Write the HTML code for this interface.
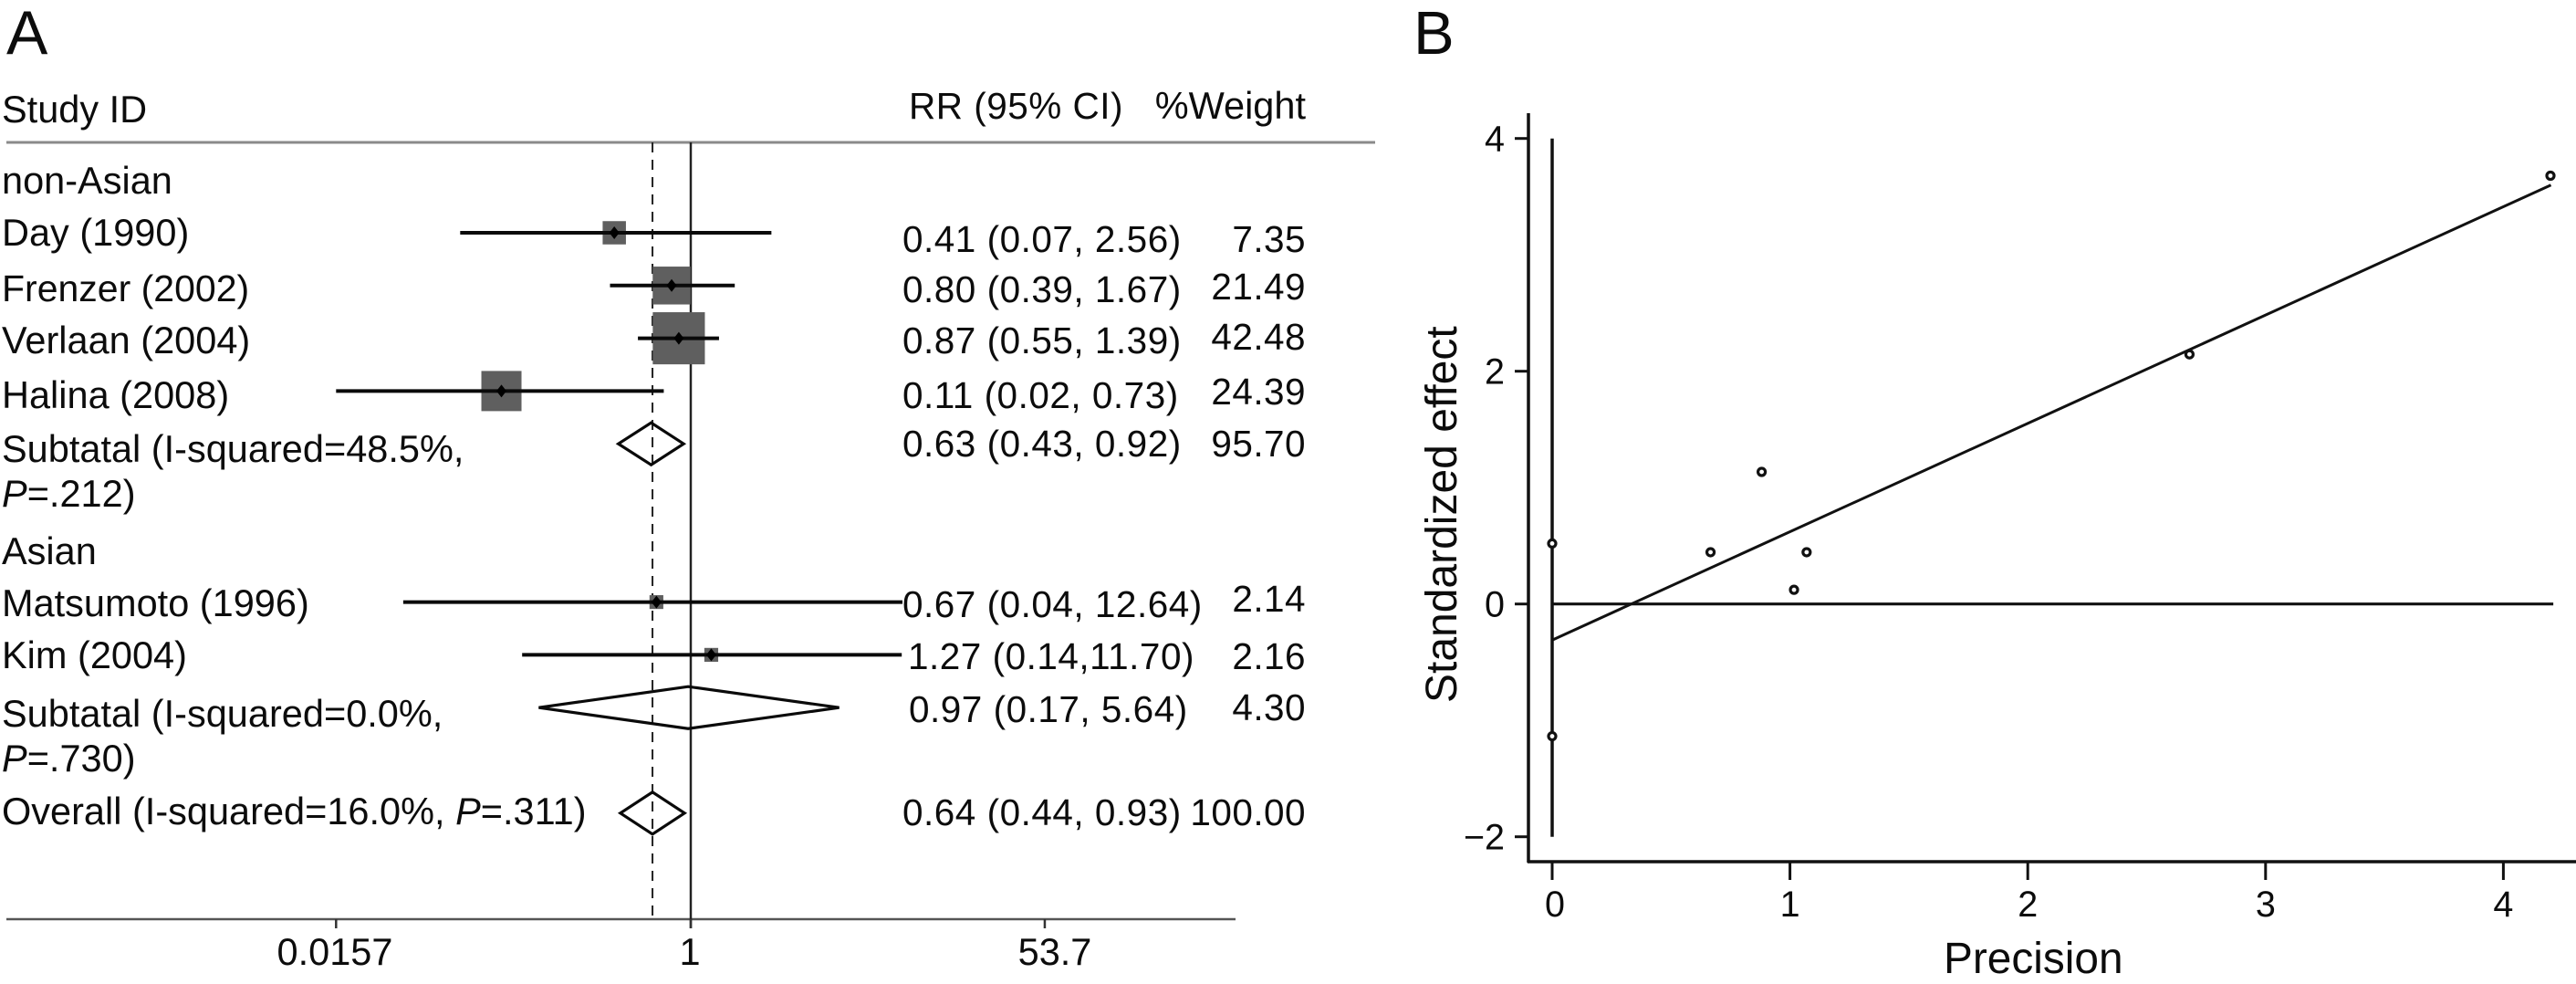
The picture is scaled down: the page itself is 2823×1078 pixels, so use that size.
<!DOCTYPE html>
<html lang="en">
<head>
<meta charset="utf-8">
<title>Forest plot and Galbraith plot</title>
<style>
html,body{margin:0;padding:0;background:#fff;width:2823px;height:1078px;overflow:hidden}
svg{display:block}
text{font-family:"Liberation Sans",Arial,sans-serif;fill:#0c0c0c;font-size:40.5px}
.lab{font-size:41.5px}
.rv{letter-spacing:.5px}
.w{text-anchor:end;letter-spacing:.45px}
.tick{font-size:39.5px}
</style>
</head>
<body>
<svg id="figure" xmlns="http://www.w3.org/2000/svg" width="2823" height="1078" viewBox="0 0 2823 1078">
  <rect width="2823" height="1078" fill="#fff"/>

  <g id="panelA">
    <text x="7" y="59" style="font-size:68px">A</text>
    <text class="lab" x="2" y="134">Study ID</text>
    <text x="996" y="130" class="rv">RR (95% CI)</text>
    <text x="1431" y="130" style="text-anchor:end;font-size:41.5px">%Weight</text>

    <text class="lab" x="2" y="212">non-Asian</text>
    <text class="lab" x="2" y="269">Day (1990)</text>
    <text class="lab" x="2" y="330" style="font-size:41px">Frenzer (2002)</text>
    <text class="lab" x="2" y="387">Verlaan (2004)</text>
    <text class="lab" x="2" y="447">Halina (2008)</text>
    <text class="lab" x="2" y="506">Subtatal (I-squared=48.5%,</text>
    <text class="lab" x="2" y="555"><tspan font-style="italic">P</tspan>=.212)</text>
    <text class="lab" x="2" y="618">Asian</text>
    <text class="lab" x="2" y="675">Matsumoto (1996)</text>
    <text class="lab" x="2" y="732">Kim (2004)</text>
    <text class="lab" x="2" y="796">Subtatal (I-squared=0.0%,</text>
    <text class="lab" x="2" y="845"><tspan font-style="italic">P</tspan>=.730)</text>
    <text class="lab" x="2" y="903">Overall (I-squared=16.0%, <tspan font-style="italic">P</tspan>=.311)</text>

    <text class="rv" x="989" y="276">0.41 (0.07, 2.56)</text>
    <text class="rv" x="989" y="331">0.80 (0.39, 1.67)</text>
    <text class="rv" x="989" y="387">0.87 (0.55, 1.39)</text>
    <text class="rv" x="989" y="447">0.11 (0.02, 0.73)</text>
    <text class="rv" x="989" y="500">0.63 (0.43, 0.92)</text>
    <text class="rv" x="989" y="676">0.67 (0.04, 12.64)</text>
    <text class="rv" x="995" y="733">1.27 (0.14,11.70)</text>
    <text class="rv" x="996" y="791">0.97 (0.17, 5.64)</text>
    <text class="rv" x="989" y="904">0.64 (0.44, 0.93)</text>

    <text class="w" x="1431" y="276">7.35</text>
    <text class="w" x="1431" y="328">21.49</text>
    <text class="w" x="1431" y="383">42.48</text>
    <text class="w" x="1431" y="443">24.39</text>
    <text class="w" x="1431" y="500">95.70</text>
    <text class="w" x="1431" y="670">2.14</text>
    <text class="w" x="1431" y="733">2.16</text>
    <text class="w" x="1431" y="789">4.30</text>
    <text class="w" x="1431" y="904">100.00</text>

    <text x="367" y="1057" style="text-anchor:middle;font-size:41.5px">0.0157</text>
    <text x="756" y="1057" style="text-anchor:middle;font-size:41.5px">1</text>
    <text x="1156" y="1057" style="text-anchor:middle;font-size:41.5px">53.7</text>

    <line x1="7" y1="156" x2="1507" y2="156" stroke="#8a8a8a" stroke-width="3"/>
    <line x1="7" y1="1007" x2="1354" y2="1007" stroke="#555" stroke-width="2.5"/>
  </g>

  <g id="panelB">
    <text x="1549" y="59" style="font-size:67px">B</text>
    <text transform="translate(1596,770) rotate(-90)" style="font-size:48px">Standardized effect</text>
    <text x="2130" y="1066" style="font-size:47.8px">Precision</text>
    <line x1="1675" y1="124" x2="1675" y2="945" stroke="#111" stroke-width="3.5"/>
    <line x1="1674" y1="944" x2="2823" y2="944" stroke="#111" stroke-width="3.5"/>
  </g>
</svg>

<script>
// Forest plot data (panel A)
const studies = ['day', 'frenzer', 'verlaan', 'halina', 'matsumoto', 'kim'];
const studyRows = [0, 1, 2, 3, 7, 8];
const rr = [0.41, 0.80, 0.87, 0.11, 0.67, 1.27];
const ciLow = [0.068, 0.39, 0.54, 0.016, 0.035, 0.14];
const ciHigh = [2.56, 1.67, 1.39, 0.73, 11.8, 11.70];
const weights = [7.35, 21.49, 42.48, 24.39, 2.14, 2.16];

const pools = ['subtotal-non-asian', 'subtotal-asian', 'overall'];
const poolRows = [4, 9, 11];
const poolRR = [0.63, 0.97, 0.64];
const poolLow = [0.43, 0.17, 0.44];
const poolHigh = [0.92, 5.64, 0.93];
const forestTicks = [0.016, 1, 62];

// Galbraith plot data (panel B)
const precision = [0, 0, 0.666, 0.881, 1.017, 1.07, 2.68, 4.198];
const standardizedEffect = [0.52, -1.136, 0.445, 1.135, 0.122, 0.445, 2.145, 3.68];
const regressionPrecision = [0, 4.2];
const regressionEffect = [-0.31, 3.6];
const xTicks = [0, 1, 2, 3, 4];
const xTickLabels = ['0', '1', '2', '3', '4'];
const yTicks = [4, 2, 0, -2];
const yTickLabels = ['4', '2', '0', '\u22122'];

const NS = 'http://www.w3.org/2000/svg';
const panelA = document.getElementById('panelA');
const panelB = document.getElementById('panelB');

function shape(parent, tag, attrs) {
  const el = document.createElementNS(NS, tag);
  for (const k in attrs) el.setAttribute(k, attrs[k]);
  
  parent.appendChild(el);
  return el;
}

// Axis functions
function fx(v) { return 757 + 94 * Math.log(v); }
function fy(row) { return 255 + 57.8 * row; }
function bx(v) { return 1701 + 260.6 * v; }
function by(v) { return 661.7 - 127.5 * v; }

// Forest: reference lines
let el = shape(panelA, 'line', {x1: fx(1), y1: 156, x2: fx(1), y2: 1017, stroke: '#222', 'stroke-width': 2.5});

el = shape(panelA, 'line', {x1: fx(poolRR[2]), y1: 156, x2: fx(poolRR[2]), y2: 1006, stroke: '#222', 'stroke-width': 2, 'stroke-dasharray': '11 8'});


forestTicks.forEach(function (t) {
  const tick = shape(panelA, 'line', {x1: fx(t), y1: 1007, x2: fx(t), y2: 1017, stroke: '#333', 'stroke-width': 2.5});
  
});

// Forest: study squares, CI lines and point markers
studies.forEach(function (name, i) {
  const x = fx(rr[i]);
  const y = fy(studyRows[i]);
  const size = 3 + 8.3 * Math.sqrt(weights[i]);
  const box = shape(panelA, 'rect', {x: x - size / 2, y: y - size / 2, width: size, height: size, fill: '#5f5f5f'});
  
  const ci = shape(panelA, 'line', {x1: fx(ciLow[i]), y1: y, x2: fx(ciHigh[i]), y2: y, stroke: '#0a0a0a', 'stroke-width': 4});
  
  const dot = shape(panelA, 'polygon', {points: [x - 5.5, y, x, y - 7, x + 5.5, y, x, y + 7].join(' '), fill: '#000'});
  
});

// Forest: pooled diamonds
pools.forEach(function (name, i) {
  const y = fy(poolRows[i]);
  const half = 23;
  const pts = [fx(poolLow[i]), y, fx(poolRR[i]), y - half, fx(poolHigh[i]), y, fx(poolRR[i]), y + half].join(' ');
  const d = shape(panelA, 'polygon', {points: pts, fill: 'none', stroke: '#0a0a0a', 'stroke-width': 3.2});
  
});

// Galbraith: ticks and tick labels
yTicks.forEach(function (v, i) {
  const t = shape(panelB, 'line', {x1: 1660, y1: by(v), x2: 1675, y2: by(v), stroke: '#111', 'stroke-width': 3});
  
  const lab = shape(panelB, 'text', {x: 1649, y: by(v) + 14, 'text-anchor': 'end', 'class': 'tick'});
  
  lab.textContent = yTickLabels[i];
});
xTicks.forEach(function (v, i) {
  const t = shape(panelB, 'line', {x1: bx(v), y1: 944, x2: bx(v), y2: 964, stroke: '#111', 'stroke-width': 3});
  
  const lab = shape(panelB, 'text', {x: bx(v) + (v === 0 ? 3 : 0), y: 1004, 'text-anchor': 'middle', 'class': 'tick'});
  
  lab.textContent = xTickLabels[i];
});

// Galbraith: reference lines and regression
el = shape(panelB, 'line', {x1: bx(0), y1: by(yTicks[0]), x2: bx(0), y2: by(yTicks[3]), stroke: '#111', 'stroke-width': 3.5});

el = shape(panelB, 'line', {x1: bx(0), y1: by(0), x2: bx(4.21), y2: by(0), stroke: '#111', 'stroke-width': 3.2});

el = shape(panelB, 'line', {x1: bx(regressionPrecision[0]), y1: by(regressionEffect[0]), x2: bx(regressionPrecision[1]), y2: by(regressionEffect[1]), stroke: '#111', 'stroke-width': 3});


// Galbraith: study points
precision.forEach(function (p, i) {
  const c = shape(panelB, 'circle', {cx: bx(p), cy: by(standardizedEffect[i]), r: 4, fill: '#fff', stroke: '#111', 'stroke-width': 3.2});
  
});
</script>
</body>
</html>
